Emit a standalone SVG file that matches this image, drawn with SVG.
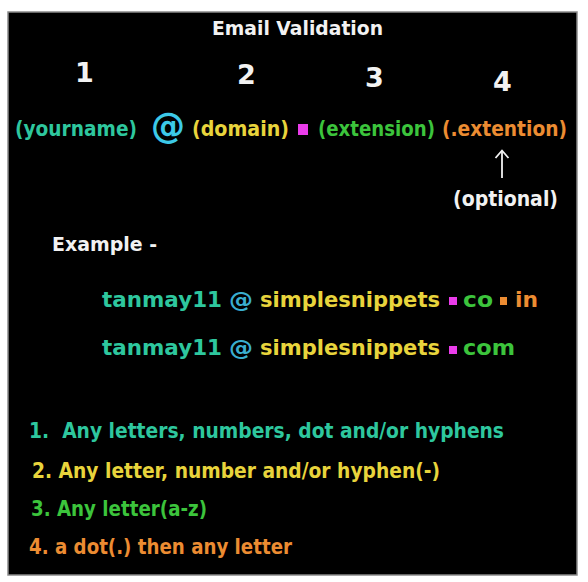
<svg xmlns="http://www.w3.org/2000/svg" width="588" height="582" viewBox="0 0 588 582">
<defs>
<style>
text{font-family:"DejaVu Sans","Verdana","Liberation Sans",sans-serif;font-weight:bold}
.w{fill:#f2f2f2}
.teal{fill:#2ec79e}
.cyan{fill:#3cc9e8}
.at{fill:#3aaed0}
.yel{fill:#e8d43c}
.grn{fill:#3cc43c}
.org{fill:#ec8c32}
.sq{fill:#ea3cea}
.osq{fill:#ec8c32}
.arrow{stroke:#f2f2f2;stroke-width:1.8;fill:none}
</style>
</defs>
<rect x="0" y="0" width="588" height="582" fill="#ffffff"/>
<rect x="8" y="12" width="569" height="563" fill="#000000" stroke="#8a8a8a" stroke-width="1.5"/>

<g id="title"><text class="w" x="212" y="35" font-size="19" textLength="171" lengthAdjust="spacingAndGlyphs">Email Validation</text></g>

<g id="numbers">
<text class="w" x="75" y="82" font-size="27">1</text>
<text class="w" x="237" y="84" font-size="27">2</text>
<text class="w" x="365" y="87" font-size="27">3</text>
<text class="w" x="493" y="91" font-size="27">4</text>
</g>

<g id="pattern">
<text class="teal" x="15" y="136" font-size="21" textLength="122" lengthAdjust="spacingAndGlyphs">(yourname)</text>
<text class="cyan" x="151" y="138" font-size="35" font-weight="normal" textLength="34" lengthAdjust="spacingAndGlyphs">@</text>
<text class="yel" x="192" y="136" font-size="21" textLength="97" lengthAdjust="spacingAndGlyphs">(domain)</text>
<rect class="sq" x="298" y="124" width="10" height="11"/>
<text class="grn" x="318" y="136" font-size="21" textLength="117" lengthAdjust="spacingAndGlyphs">(extension)</text>
<text class="org" x="442" y="136" font-size="21" textLength="125" lengthAdjust="spacingAndGlyphs">(.extention)</text>
</g>

<g id="connectors">
<path class="arrow" d="M502,178 L502,151"/>
<path class="arrow" d="M495.5,158 L502,150.5 L508.5,158"/>
</g>

<g id="optional"><text class="w" x="453" y="206" font-size="21" textLength="105" lengthAdjust="spacingAndGlyphs">(optional)</text></g>

<g id="example-label"><text class="w" x="52" y="251" font-size="19" textLength="105" lengthAdjust="spacingAndGlyphs">Example -</text></g>

<g id="example1">
<text class="teal" x="102" y="307" font-size="22" textLength="120" lengthAdjust="spacingAndGlyphs">tanmay11</text>
<text class="at" x="229" y="307" font-size="22" textLength="24" lengthAdjust="spacingAndGlyphs">@</text>
<text class="yel" x="260" y="307" font-size="22" textLength="180" lengthAdjust="spacingAndGlyphs">simplesnippets</text>
<rect class="sq" x="449" y="297" width="8" height="8"/>
<text class="grn" x="463" y="307" font-size="22" textLength="30" lengthAdjust="spacingAndGlyphs">co</text>
<rect class="osq" x="500" y="297" width="7" height="8"/>
<text class="org" x="515" y="307" font-size="22" textLength="23" lengthAdjust="spacingAndGlyphs">in</text>
</g>

<g id="example2">
<text class="teal" x="102" y="355" font-size="22" textLength="120" lengthAdjust="spacingAndGlyphs">tanmay11</text>
<text class="at" x="229" y="355" font-size="22" textLength="24" lengthAdjust="spacingAndGlyphs">@</text>
<text class="yel" x="260" y="355" font-size="22" textLength="180" lengthAdjust="spacingAndGlyphs">simplesnippets</text>
<rect class="sq" x="449" y="346" width="8" height="8"/>
<text class="grn" x="463" y="355" font-size="22" textLength="52" lengthAdjust="spacingAndGlyphs">com</text>
</g>

<g id="rules">
<text class="teal" x="29" y="438" font-size="21" textLength="475" lengthAdjust="spacingAndGlyphs" xml:space="preserve">1.  Any letters, numbers, dot and/or hyphens</text>
<text class="yel" x="32" y="478" font-size="21" textLength="408" lengthAdjust="spacingAndGlyphs">2. Any letter, number and/or hyphen(-)</text>
<text class="grn" x="31" y="516" font-size="21" textLength="176" lengthAdjust="spacingAndGlyphs">3. Any letter(a-z)</text>
<text class="org" x="29" y="554" font-size="21" textLength="263" lengthAdjust="spacingAndGlyphs">4. a dot(.) then any letter</text>
</g>
</svg>
